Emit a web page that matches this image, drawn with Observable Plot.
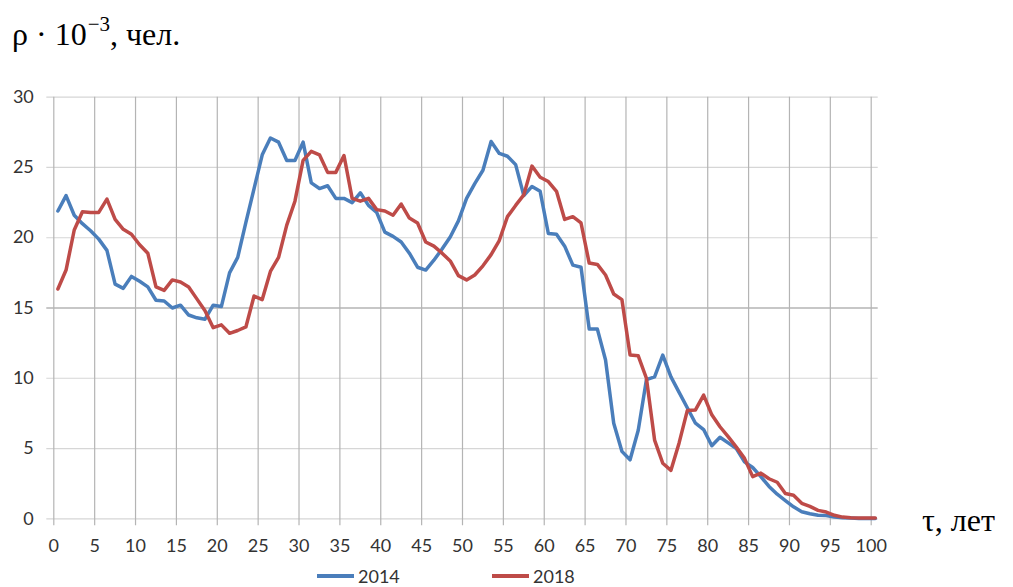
<!DOCTYPE html>
<html>
<head>
<meta charset="utf-8">
<script src="https://cdn.jsdelivr.net/npm/d3@7"></script>
<script src="https://cdn.jsdelivr.net/npm/@observablehq/plot@0.6"></script>
<style>
  html, body { margin: 0; padding: 0; background: #fff; }
  body { width: 1013px; height: 587px; position: relative; overflow: hidden; }
  #title { position: absolute; left: 12px; top: 18px; font-family: "Liberation Serif", serif; font-size: 32px; line-height: 1; color: #000; white-space: nowrap; }
  #title sup { font-size: 21px; vertical-align: 0; position: relative; top: -14px; margin-left: 1px; }
  #xlab { position: absolute; left: 922px; top: 504px; font-family: "Liberation Serif", serif; font-size: 32px; line-height: 1; color: #000; white-space: nowrap; }
  #chart { position: absolute; left: 0; top: 70px; }
  .leg { position: absolute; top: 566px; font-family: Lato, sans-serif; font-size: 18px; line-height: 20px; color: #333; display: flex; align-items: center; }
  .leg i { display: inline-block; width: 37px; height: 3.5px; margin-right: 4px; }
</style>
</head>
<body>
<div id="title">ρ · 10<sup>−3</sup>, чел.</div>
<div id="chart"></div>
<div id="xlab">τ, лет</div>
<div id="legend"></div>
<script>
const ages = d3.range(0, 101);
const v2014 = [
  21.9, 23.0, 21.6, 21.0, 20.5, 19.9, 19.1, 16.7, 16.4, 17.25,
  16.9, 16.5, 15.55, 15.5, 15.0, 15.2, 14.5, 14.3, 14.2, 15.2,
  15.1, 17.5, 18.6, 21.1, 23.5, 25.9, 27.1, 26.8, 25.5, 25.5,
  26.8, 23.9, 23.5, 23.7, 22.8, 22.8, 22.5, 23.2, 22.3, 21.8,
  20.4, 20.1, 19.7, 18.9, 17.9, 17.7, 18.4, 19.2, 20.05, 21.2,
  22.8, 23.85, 24.8, 26.85, 26.0, 25.8, 25.2, 23.0, 23.65, 23.3,
  20.3, 20.25, 19.4, 18.05, 17.9, 13.5, 13.5, 11.3, 6.8, 4.8,
  4.2, 6.3, 9.9, 10.1, 11.65, 10.1, 9.0, 7.9, 6.8, 6.35,
  5.2, 5.8, 5.4, 5.0, 4.05, 3.65, 3.0, 2.3, 1.75, 1.3,
  0.85, 0.5, 0.36, 0.25, 0.24, 0.12, 0.07, 0.05, 0.03, 0.02,
  0.02
];
const v2018 = [
  16.35, 17.7, 20.55, 21.85, 21.8, 21.8, 22.75, 21.3, 20.6, 20.25,
  19.5, 18.9, 16.5, 16.25, 17.0, 16.85, 16.5, 15.65, 14.8, 13.6,
  13.8, 13.2, 13.4, 13.65, 15.85, 15.6, 17.6, 18.6, 20.9, 22.6,
  25.5, 26.15, 25.9, 24.65, 24.65, 25.85, 22.8, 22.6, 22.8, 22.0,
  21.9, 21.6, 22.4, 21.4, 21.05, 19.7, 19.4, 18.9, 18.35, 17.3,
  17.0, 17.35, 18.0, 18.8, 19.8, 21.5, 22.3, 23.05, 25.1, 24.3,
  24.0, 23.3, 21.3, 21.5, 21.05, 18.2, 18.1, 17.35, 16.0, 15.6,
  11.65, 11.6, 10.0, 5.6, 3.95, 3.45, 5.4, 7.7, 7.75, 8.8,
  7.4, 6.55, 5.85, 5.1, 4.3, 3.0, 3.25, 2.85, 2.6, 1.8,
  1.67, 1.1, 0.88, 0.6, 0.48, 0.25, 0.12, 0.07, 0.05, 0.05,
  0.05
];
const seriesNames = ["2014", "2018"];
const seriesColors = ["#4a7ebb", "#be4b48"];
const xTicks = d3.range(0, 101, 5);
const yTicks = d3.range(0, 31, 5);

const rows = [];
ages.forEach((a, i) => {
  rows.push({age: a, series: seriesNames[0], value: v2014[i]});
  rows.push({age: a, series: seriesNames[1], value: v2018[i]});
});

const chart = Plot.plot({
  width: 1013,
  height: 490,
  marginLeft: 53.3,
  marginRight: 142.3,
  marginTop: 26.7,
  marginBottom: 41.7,
  style: {fontFamily: "Lato, sans-serif", fontSize: "18px", color: "#333", background: "transparent"},
  x: {domain: [0, 100], ticks: xTicks},
  y: {domain: [0, 30], ticks: yTicks},
  color: {domain: seriesNames, range: seriesColors},
  marks: [
    Plot.ruleY(yTicks, {stroke: d => d === 15 ? "#8f8f8f" : "#d6d6d6", strokeWidth: 1.2, insetLeft: -7, insetRight: -7}),
    Plot.ruleX(xTicks, {stroke: "#b4b4b4", strokeWidth: 1.2, insetBottom: -7}),
    Plot.axisX({ticks: xTicks, tickSize: 0, tickPadding: 20, label: null, fill: "#333"}),
    Plot.axisY({ticks: yTicks, tickSize: 0, tickPadding: 20, label: null, fill: "#333"}),
    Plot.line(rows, {x: d => d.age + 0.5, y: "value", z: "series", stroke: "series", strokeWidth: 3.5, strokeLinejoin: "round", strokeLinecap: "round"})
  ]
});
document.getElementById("chart").appendChild(chart);

const legend = document.getElementById("legend");
const legLeft = [317, 492];
seriesNames.forEach((name, i) => {
  const el = document.createElement("div");
  el.className = "leg";
  el.style.left = legLeft[i] + "px";
  el.innerHTML = `<i style="background:${seriesColors[i]}"></i><span>${name}</span>`;
  legend.appendChild(el);
});
</script>
</body>
</html>
